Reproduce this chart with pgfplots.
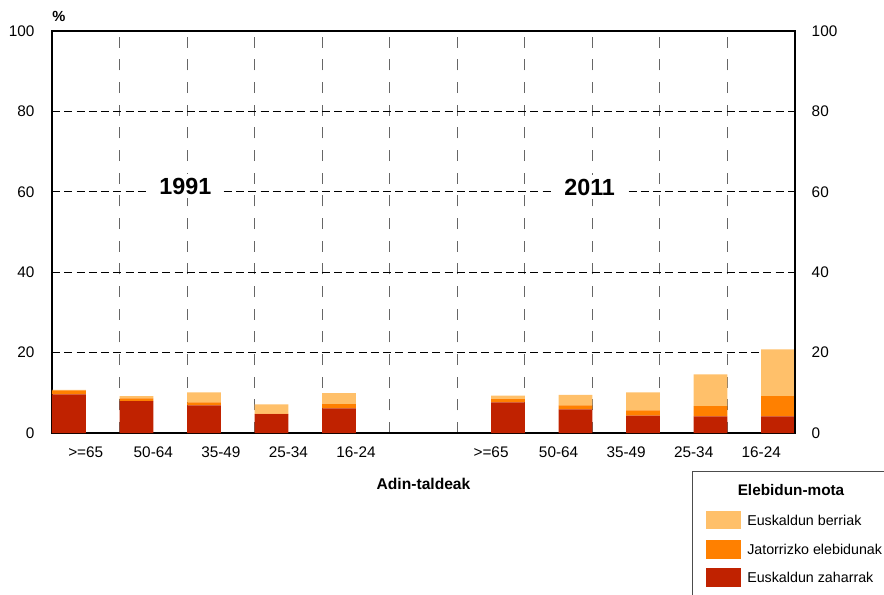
\documentclass[border=0pt]{standalone}
\usepackage{fontspec}
\setmainfont{Liberation Sans}
\usepackage{pgfplots}
\pgfplotsset{compat=1.18}
\usetikzlibrary{calc}

\definecolor{zahar}{HTML}{C02200}
\definecolor{jator}{HTML}{FF8000}
\definecolor{berri}{HTML}{FFC06A}

\begin{document}
\begin{tikzpicture}
\begin{axis}[
  name=main,
  scale only axis, width=557.25pt, height=301.5pt,
  ybar stacked, bar width=0.5,
  xmin=-0.5, xmax=10.5, ymin=0, ymax=100,
  xtick={0,...,10},
  xticklabels={>=65,50-64,35-49,25-34,16-24,,>=65,50-64,35-49,25-34,16-24},
  minor xtick={0.5,1.5,...,9.5},
  ytick={0,20,...,100},
  major tick length=0, minor tick length=0,
  ymajorgrids, xminorgrids,
  major grid style={black, line width=1pt, dash pattern=on 6pt off 3.2pt},
  minor grid style={black!60, line width=0.85pt, dash pattern=on 8.3pt off 8.7pt},
  axis line style={black, line width=1pt},
  /pgf/number format/assume math mode=true,
  tick label style={font=\fontsize{11.5}{13}\selectfont},
  xticklabel style={yshift=-6.7pt},
  yticklabel style={xshift=-9.7pt},
  ylabel={\%},
  every axis y label/.style={at={(axis description cs:0,1)}, anchor=south west,
    inner sep=0pt, yshift=7pt, font=\bfseries\fontsize{11}{13}\selectfont},
  xlabel={Adin-taldeak},
  every axis x label/.style={at={(axis description cs:0.5,0)}, anchor=center,
    yshift=-38.5pt, font=\bfseries\fontsize{11.7}{13}\selectfont},
]
% Euskaldun zaharrak
\addplot[fill=zahar, draw=none] coordinates {
  (-0.25,9.6) (0.75,7.9) (1.75,6.9) (2.75,4.7) (3.75,6.1)
  (6.25,7.6) (7.25,5.9) (8.25,4.3) (9.25,4.15) (10.25,4.15)};
% Jatorrizko elebidunak
\addplot[fill=jator, draw=none] coordinates {
  (-0.25,1.0) (0.75,0.7) (1.75,0.7) (2.75,0.1) (3.75,1.1)
  (6.25,0.8) (7.25,1.0) (8.25,1.3) (9.25,2.55) (10.25,5.05)};
% Euskaldun berriak
\addplot[fill=berri, draw=none] coordinates {
  (-0.25,0.1) (0.75,0.6) (1.75,2.5) (2.75,2.3) (3.75,2.7)
  (6.25,0.9) (7.25,2.6) (8.25,4.5) (9.25,7.9) (10.25,11.6)};

\node[fill=white, inner xsep=8.5pt, inner ysep=3pt,
  font=\bfseries\fontsize{17.5}{20}\selectfont] at (axis cs:1.475,61.4) {1991};
\node[fill=white, inner xsep=10pt, inner ysep=3pt,
  font=\bfseries\fontsize{17.5}{20}\selectfont] at (axis cs:7.46,61.2) {2011};
\end{axis}

% right-hand tick labels
\begin{axis}[
  scale only axis, width=557.25pt, height=301.5pt,
  xmin=-0.5, xmax=10.5, ymin=0, ymax=100,
  axis x line=none, axis y line*=right,
  ytick={0,20,...,100}, major tick length=0,
  axis line style={black, line width=1pt},
  /pgf/number format/assume math mode=true,
  yticklabel style={xshift=9pt, font=\fontsize{11.5}{13}\selectfont},
]
\end{axis}

% legend
\draw[black!70, line width=0.6pt] ($(main.south west)+(480pt,-28.5pt)$)
  rectangle ($(main.south west)+(628.5pt,-126pt)$);
\node[font=\bfseries\fontsize{11.5}{13}\selectfont]
  at ($(main.south west)+(554.25pt,-42.75pt)$) {Elebidun-mota};
\fill[berri] ($(main.south west)+(490.5pt,-58.5pt)$) rectangle ($(main.south west)+(516.75pt,-72pt)$);
\fill[jator] ($(main.south west)+(490.5pt,-80.25pt)$) rectangle ($(main.south west)+(516.75pt,-94.3pt)$);
\fill[zahar] ($(main.south west)+(490.5pt,-101.25pt)$) rectangle ($(main.south west)+(516.75pt,-115.5pt)$);
\begin{scope}[every node/.style={anchor=west, inner sep=0pt, font=\fontsize{10.7}{12}\selectfont}]
\node at ($(main.south west)+(521.25pt,-65.25pt)$) {Euskaldun berriak};
\node at ($(main.south west)+(521.25pt,-87.4pt)$) {Jatorrizko elebidunak};
\node at ($(main.south west)+(521.25pt,-108.4pt)$) {Euskaldun zaharrak};
\end{scope}

\pgfresetboundingbox
\path ($(main.south west)+(-39pt,-120.75pt)$) rectangle ($(main.south west)+(624pt,324.75pt)$);
\end{tikzpicture}
\end{document}
